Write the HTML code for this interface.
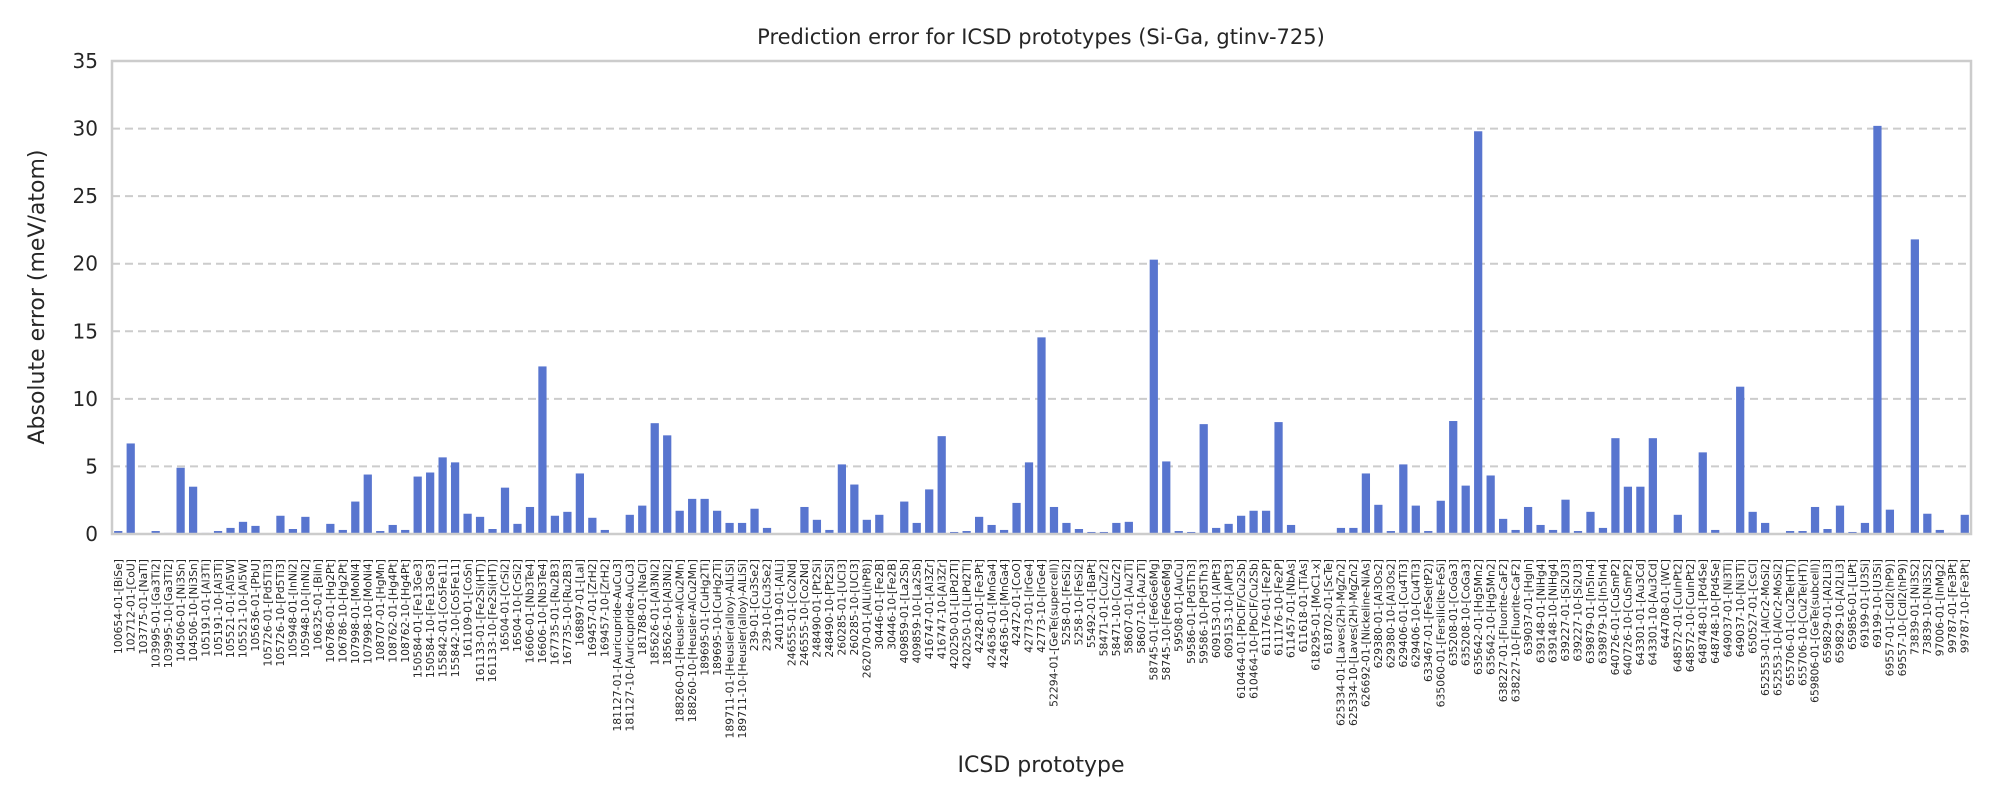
<!DOCTYPE html>
<html><head><meta charset="utf-8"><style>
html,body{margin:0;padding:0;background:#fff;}
svg{display:block;font-family:"DejaVu Sans","Liberation Sans",sans-serif;}
</style></head><body>
<svg id="chart" width="2000" height="800" viewBox="0 0 2000 800">
<text x="1041" y="44" text-anchor="middle" font-size="21" fill="#262626">Prediction error for ICSD prototypes (Si-Ga, gtinv-725)</text>
<text transform="translate(44,297) rotate(-90)" text-anchor="middle" font-size="22" fill="#262626">Absolute error (meV/atom)</text>
<text x="1041" y="772" text-anchor="middle" font-size="22" fill="#262626">ICSD prototype</text>
<g id="grid"></g><g id="bars"></g><g id="yticks"></g><g id="xticks"></g>
<rect x="112" y="61" width="1859" height="473" fill="none" stroke="#cccccc" stroke-width="2.5"/>
</svg>
<script>
const categories = ["100654-01-[BiSe]","102712-01-[CoU]","103775-01-[NaTl]","103995-01-[Ga3Ti2]","103995-10-[Ga3Ti2]","104506-01-[Ni3Sn]","104506-10-[Ni3Sn]","105191-01-[Al3Ti]","105191-10-[Al3Ti]","105521-01-[Al5W]","105521-10-[Al5W]","105636-01-[PbU]","105726-01-[Pd5Ti3]","105726-10-[Pd5Ti3]","105948-01-[InNi2]","105948-10-[InNi2]","106325-01-[BiIn]","106786-01-[Hg2Pt]","106786-10-[Hg2Pt]","107998-01-[MoNi4]","107998-10-[MoNi4]","108707-01-[HgMn]","108762-01-[Hg4Pt]","108762-10-[Hg4Pt]","150584-01-[Fe13Ge3]","150584-10-[Fe13Ge3]","155842-01-[Co5Fe11]","155842-10-[Co5Fe11]","161109-01-[CoSn]","161133-01-[Fe2Si(HT)]","161133-10-[Fe2Si(HT)]","16504-01-[CrSi2]","16504-10-[CrSi2]","16606-01-[Nb3Te4]","16606-10-[Nb3Te4]","167735-01-[Ru2B3]","167735-10-[Ru2B3]","168897-01-[LaI]","169457-01-[ZrH2]","169457-10-[ZrH2]","181127-01-[Auricupride-AuCu3]","181127-10-[Auricupride-AuCu3]","181788-01-[NaCl]","185626-01-[Al3Ni2]","185626-10-[Al3Ni2]","188260-01-[Heusler-AlCu2Mn]","188260-10-[Heusler-AlCu2Mn]","189695-01-[CuHg2Ti]","189695-10-[CuHg2Ti]","189711-01-[Heusler(alloy)-AlLiSi]","189711-10-[Heusler(alloy)-AlLiSi]","239-01-[Cu3Se2]","239-10-[Cu3Se2]","240119-01-[AlLi]","246555-01-[Co2Nd]","246555-10-[Co2Nd]","248490-01-[Pt2Si]","248490-10-[Pt2Si]","260285-01-[UCl3]","260285-10-[UCl3]","262070-01-[AlLi(hP8)]","30446-01-[Fe2B]","30446-10-[Fe2B]","409859-01-[La2Sb]","409859-10-[La2Sb]","416747-01-[Al3Zr]","416747-10-[Al3Zr]","420250-01-[LiPd2Tl]","420250-10-[LiPd2Tl]","42428-01-[Fe3Pt]","424636-01-[MnGa4]","424636-10-[MnGa4]","42472-01-[CoO]","42773-01-[IrGe4]","42773-10-[IrGe4]","52294-01-[GeTe(supercell)]","5258-01-[FeSi2]","5258-10-[FeSi2]","55492-01-[BaPt]","58471-01-[CuZr2]","58471-10-[CuZr2]","58607-01-[Au2Ti]","58607-10-[Au2Ti]","58745-01-[Fe6Ge6Mg]","58745-10-[Fe6Ge6Mg]","59508-01-[AuCu]","59586-01-[Pd5Th3]","59586-10-[Pd5Th3]","609153-01-[AlPt3]","609153-10-[AlPt3]","610464-01-[PbClF/Cu2Sb]","610464-10-[PbClF/Cu2Sb]","611176-01-[Fe2P]","611176-10-[Fe2P]","611457-01-[NbAs]","611618-01-[TiAs]","618295-01-[MoC1-x]","618702-01-[ScTe]","625334-01-[Laves(2H)-MgZn2]","625334-10-[Laves(2H)-MgZn2]","626692-01-[Nickeline-NiAs]","629380-01-[Al3Os2]","629380-10-[Al3Os2]","629406-01-[Cu4Ti3]","629406-10-[Cu4Ti3]","633467-01-[FeSe(tP2)]","635060-01-[Fersilicite-FeSi]","635208-01-[CoGa3]","635208-10-[CoGa3]","635642-01-[Hg5Mn2]","635642-10-[Hg5Mn2]","638227-01-[Fluorite-CaF2]","638227-10-[Fluorite-CaF2]","639037-01-[HgIn]","639148-01-[NiHg4]","639148-10-[NiHg4]","639227-01-[Si2U3]","639227-10-[Si2U3]","639879-01-[In5In4]","639879-10-[In5In4]","640726-01-[CuSmP2]","640726-10-[CuSmP2]","643301-01-[Au3Cd]","643301-10-[Au3Cd]","644708-01-[WC]","648572-01-[CuInPt2]","648572-10-[CuInPt2]","648748-01-[Pd4Se]","648748-10-[Pd4Se]","649037-01-[Ni3Ti]","649037-10-[Ni3Ti]","650527-01-[CsCl]","652553-01-[AlCr2-MoSi2]","652553-10-[AlCr2-MoSi2]","655706-01-[Cu2Te(HT)]","655706-10-[Cu2Te(HT)]","659806-01-[GeTe(subcell)]","659829-01-[Al2Li3]","659829-10-[Al2Li3]","659856-01-[LiPt]","69199-01-[U3Si]","69199-10-[U3Si]","69557-01-[CdI2(hP9)]","69557-10-[CdI2(hP9)]","73839-01-[Ni3S2]","73839-10-[Ni3S2]","97006-01-[InMg2]","99787-01-[Fe3Pt]","99787-10-[Fe3Pt]"];
const errors = [0.22,6.7,0.05,0.22,0.08,4.9,3.5,0.08,0.22,0.45,0.9,0.6,0,1.35,0.37,1.27,0,0.75,0.3,2.4,4.4,0.22,0.67,0.3,4.25,4.55,5.67,5.3,1.5,1.27,0.37,3.43,0.75,2.0,12.4,1.35,1.64,4.48,1.2,0.3,0,1.42,2.1,8.2,7.3,1.72,2.6,2.6,1.72,0.82,0.82,1.87,0.45,0,0,2.0,1.05,0.3,5.15,3.66,1.05,1.42,0.08,2.4,0.82,3.3,7.24,0.15,0.22,1.27,0.67,0.3,2.3,5.3,14.55,2.0,0.82,0.37,0.15,0.15,0.82,0.9,0,20.3,5.37,0.22,0.15,8.13,0.45,0.75,1.35,1.72,1.72,8.28,0.67,0,0,0,0.45,0.45,4.48,2.16,0.22,5.15,2.1,0.22,2.46,8.36,3.58,29.8,4.33,1.12,0.3,2.0,0.67,0.3,2.54,0.22,1.64,0.45,7.09,3.5,3.5,7.09,0.08,1.42,0,6.04,0.3,0.08,10.9,1.64,0.82,0,0.22,0.22,2.0,0.37,2.1,0.15,0.82,30.2,1.8,0,21.8,1.5,0.3,0.08,1.42];
const yTicks = [0,5,10,15,20,25,30,35];
const gridTicks = [5,10,15,20,25,30];

const NS="http://www.w3.org/2000/svg";
const L=112,R=1971,T=61,B=534,yMax=35;
const step=(R-L)/categories.length;
const xPos=i=>L+step*(i+0.5);
const yPos=v=>B-(v/yMax)*(B-T);
function mk(tag,attrs,parent){const e=document.createElementNS(NS,tag);for(const k in attrs)e.setAttribute(k,attrs[k]);parent.appendChild(e);return e;}
const grid=document.getElementById('grid'),bars=document.getElementById('bars'),yt=document.getElementById('yticks'),xt=document.getElementById('xticks');
gridTicks.forEach(v=>{
  const l=mk('line',{x1:L,x2:R,y1:yPos(v),y2:yPos(v),stroke:'#cccccc','stroke-width':2,'stroke-dasharray':'8,5'},grid);
  
  
});
yTicks.forEach(v=>{
  const t=mk('text',{x:L-14,y:yPos(v)+7,'text-anchor':'end','font-size':20,fill:'#262626'},yt);
  t.textContent=v;
  
  
});
const bw=step*0.66;
errors.forEach((v,i)=>{
  const y=yPos(v);
  const r=mk('rect',{x:xPos(i)-bw/2,y:y,width:bw,height:Math.max(0,B-y),fill:'#5875cf'},bars);
  
  
});
categories.forEach((c,i)=>{
  const x=xPos(i)+3.7,y=559;
  const t=mk('text',{x:x,y:y,transform:`rotate(-90 ${x} ${y})`,'text-anchor':'end','font-size':10.8,fill:'#262626'},xt);
  t.textContent=c;
  
  
});
</script>
</body></html>
